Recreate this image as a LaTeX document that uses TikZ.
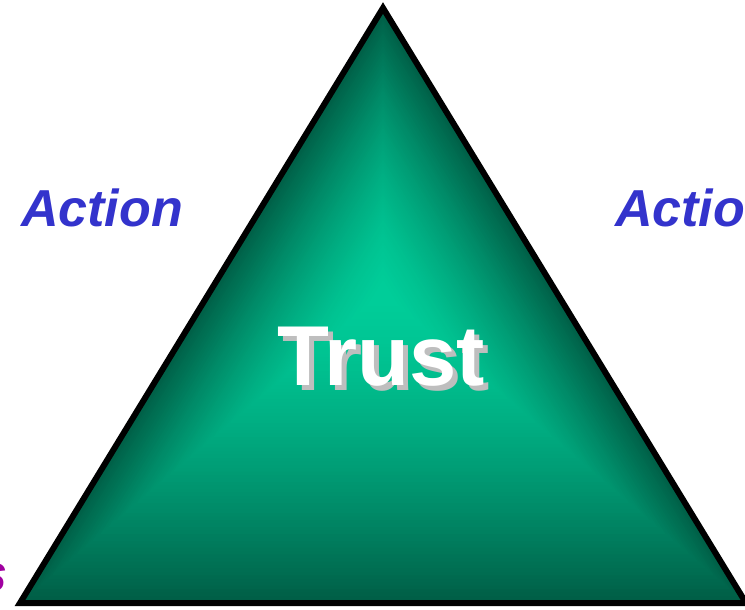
\documentclass[tikz,border=0pt]{standalone}
\usepackage{fontspec}
\setmainfont{Liberation Sans}
\usetikzlibrary{calc}
\definecolor{brightgreen}{RGB}{0,206,154}
\definecolor{darkgreen}{RGB}{0,94,70}
\definecolor{actionblue}{RGB}{51,51,204}
\definecolor{wordpurple}{RGB}{160,0,160}
\definecolor{shadowgray}{RGB}{190,190,190}
\tikzset{
  sidelabel/.style={inner sep=0pt, anchor=base west, text=actionblue, font=\fontsize{52}{52}\selectfont\bfseries\itshape},
  trustlabel/.style={inner sep=0pt, anchor=base west, font=\fontsize{85}{85}\selectfont\bfseries},
  edge/.style={draw=black, line width=6pt, line join=miter}
}
\begin{document}
\begin{tikzpicture}[x=1pt,y=-1pt]
\useasboundingbox (0,0) rectangle (745,610);
\clip (0,0) rectangle (745,610);
\coordinate (A) at (383,8);
\coordinate (L) at (20,603);
\coordinate (R) at (746,603);
\coordinate (C) at (383,292);
\foreach \i in {0,...,90}{
  \pgfmathsetmacro\sc{1-\i/90}
  \pgfmathtruncatemacro\pc{100*(1-\sc^1.5)}
  \fill[brightgreen!\pc!darkgreen] ($(C)!\sc!(A)$) -- ($(C)!\sc!(L)$) -- ($(C)!\sc!(R)$) -- cycle;
}
\path[edge] (A) -- (L) -- (R) -- cycle;
\node[sidelabel] (actl) at (21,226) {Action};
\node[sidelabel] (actr) at (615,226) {Action};
\node[sidelabel, anchor=base east, text=wordpurple] (wrd) at (8,591) {s};
\node[trustlabel, text=shadowgray] (trsh) at (282,390) {Trust};
\node[trustlabel, text=white] (trust) at (277,385) {Trust};
\end{tikzpicture}
\end{document}
